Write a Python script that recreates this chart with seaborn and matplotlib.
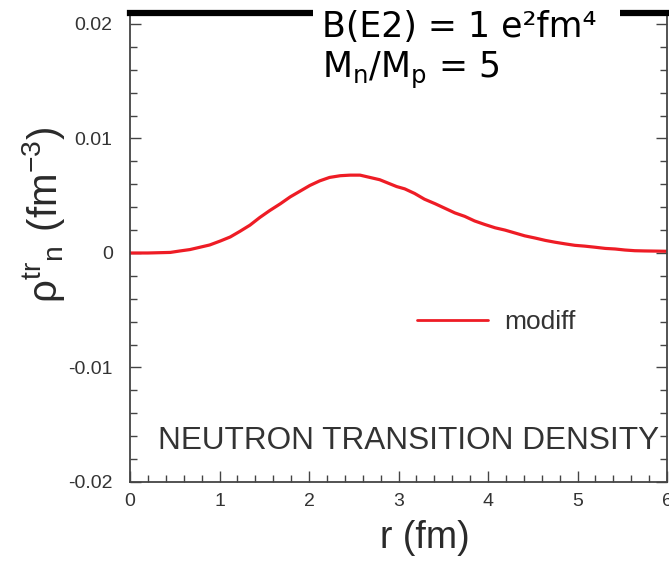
import numpy as np
import pandas as pd
import matplotlib
matplotlib.use("Agg")
import matplotlib.pyplot as plt
import seaborn as sns
from matplotlib.patches import Rectangle
from matplotlib.ticker import MultipleLocator

# ---- data ----
r_fm = [0.0, 0.2, 0.45, 0.56, 0.67, 0.78, 0.89, 1.01, 1.12, 1.23, 1.34, 1.45,
        1.56, 1.68, 1.79, 1.90, 2.01, 2.12, 2.23, 2.35, 2.46, 2.57, 2.68,
        2.79, 2.98, 3.07, 3.18, 3.29, 3.41, 3.52, 3.63, 3.74, 3.85, 3.96,
        4.08, 4.19, 4.30, 4.41, 4.53, 4.64, 4.75, 4.86, 4.97, 5.08, 5.20,
        5.31, 5.42, 5.53, 5.64, 5.75, 6.0]
rho_n = [0.0, 0.0, 0.00005, 0.00018, 0.0003, 0.0005, 0.0007, 0.00105, 0.0014,
         0.0019, 0.00243, 0.0031, 0.0037, 0.0043, 0.0049, 0.0054, 0.0059,
         0.0063, 0.0066, 0.00675, 0.0068, 0.0068, 0.0066, 0.0064, 0.0058,
         0.0056, 0.0052, 0.0047, 0.0043, 0.0039, 0.0035, 0.0032, 0.0028,
         0.0025, 0.0022, 0.0020, 0.00175, 0.0015, 0.0013, 0.0011, 0.00094,
         0.0008, 0.00067, 0.0006, 0.0005, 0.0004, 0.00035, 0.00026, 0.0002,
         0.00018, 0.00015]
series_label = "modiff"
x_ticks = [0, 1, 2, 3, 4, 5, 6]
y_ticks = [-0.02, -0.01, 0.0, 0.01, 0.02]
y_tick_labels = ["-0.02", "-0.01", "0", "0.01", "0.02"]
x_tick_labels = ["0", "1", "2", "3", "4", "5", "6"]

df = pd.DataFrame({"r": r_fm, "rho": rho_n, "model": series_label})

sns.set_theme(style="white")
plt.rcParams["font.family"] = ["Liberation Sans", "DejaVu Sans"]

fig = plt.figure(figsize=(6.69, 5.61), dpi=100)
ax = fig.add_axes([130 / 669, 79 / 561, 537 / 669, 469 / 561])

sns.lineplot(data=df, x="r", y="rho", hue="model", palette=["#ee1c25"],
             linewidth=2.3, ax=ax, legend=False)
ax.plot([], [], color="#ee1c25", lw=2.0, label=series_label)

ax.set_xlim(0, 6)
ax.set_ylim(-0.02, 0.02096)
ax.set_xticks(x_ticks)
ax.set_xticklabels(x_tick_labels)
ax.set_yticks(y_ticks)
ax.set_yticklabels(y_tick_labels)
ax.xaxis.set_minor_locator(MultipleLocator(0.2))
ax.yaxis.set_minor_locator(MultipleLocator(0.002))

gray = "#444444"
for side in ["left", "right", "bottom"]:
    ax.spines[side].set_visible(True)
    ax.spines[side].set_color(gray)
    ax.spines[side].set_linewidth(1.3)
ax.spines["top"].set_color("black")
ax.spines["top"].set_linewidth(4.5)

ax.tick_params(axis="both", which="both", direction="in", colors=gray,
               left=True, right=True, bottom=True, top=False)
ax.tick_params(axis="both", which="major", length=8, width=1.0,
               labelsize=14, labelcolor="#333333")
ax.tick_params(axis="both", which="minor", length=5, width=1.0)
ax.tick_params(axis="x", which="major", pad=8)
ax.tick_params(axis="y", which="major", pad=12.5)

ax.set_xlabel("r (fm)", fontsize=27, color="#2a2a2a")
ax.set_ylabel(r"$\mathregular{\rho^{tr}{}_n\ (fm^{-3})}$", fontsize=29,
              color="#2a2a2a")
ax.yaxis.set_label_coords(-0.117, 0.57)
ax.xaxis.set_label_coords(0.55, -0.08)

ax.text(0.053, 0.0704, "NEUTRON TRANSITION DENSITY", transform=ax.transAxes,
        fontsize=22.7, color="#333333", va="baseline", ha="left")

leg = ax.legend(loc="center left", bbox_to_anchor=(0.534, 0.341),
                frameon=False, fontsize=19, handlelength=2.69,
                handletextpad=0.64, borderpad=0, borderaxespad=0,
                labelcolor="#333333")

# white label box at top
fig.patches.append(Rectangle((313 / 669, 1 - 103 / 561), 307 / 669, 103 / 561,
                             transform=fig.transFigure, facecolor="white",
                             edgecolor="none", zorder=10))
fig.text(322 / 669, 1 - 37 / 561, "B(E2) = 1 e²fm⁴", fontsize=25,
         family=["DejaVu Sans"], color="black", zorder=11, va="baseline")
fig.text(322 / 669, 1 - 78 / 561, r"$\mathregular{M_n/M_p}$ = 5", fontsize=25,
         family=["DejaVu Sans"], color="black", zorder=11, va="baseline")

fig.savefig("out.png", dpi=100, facecolor="white")
